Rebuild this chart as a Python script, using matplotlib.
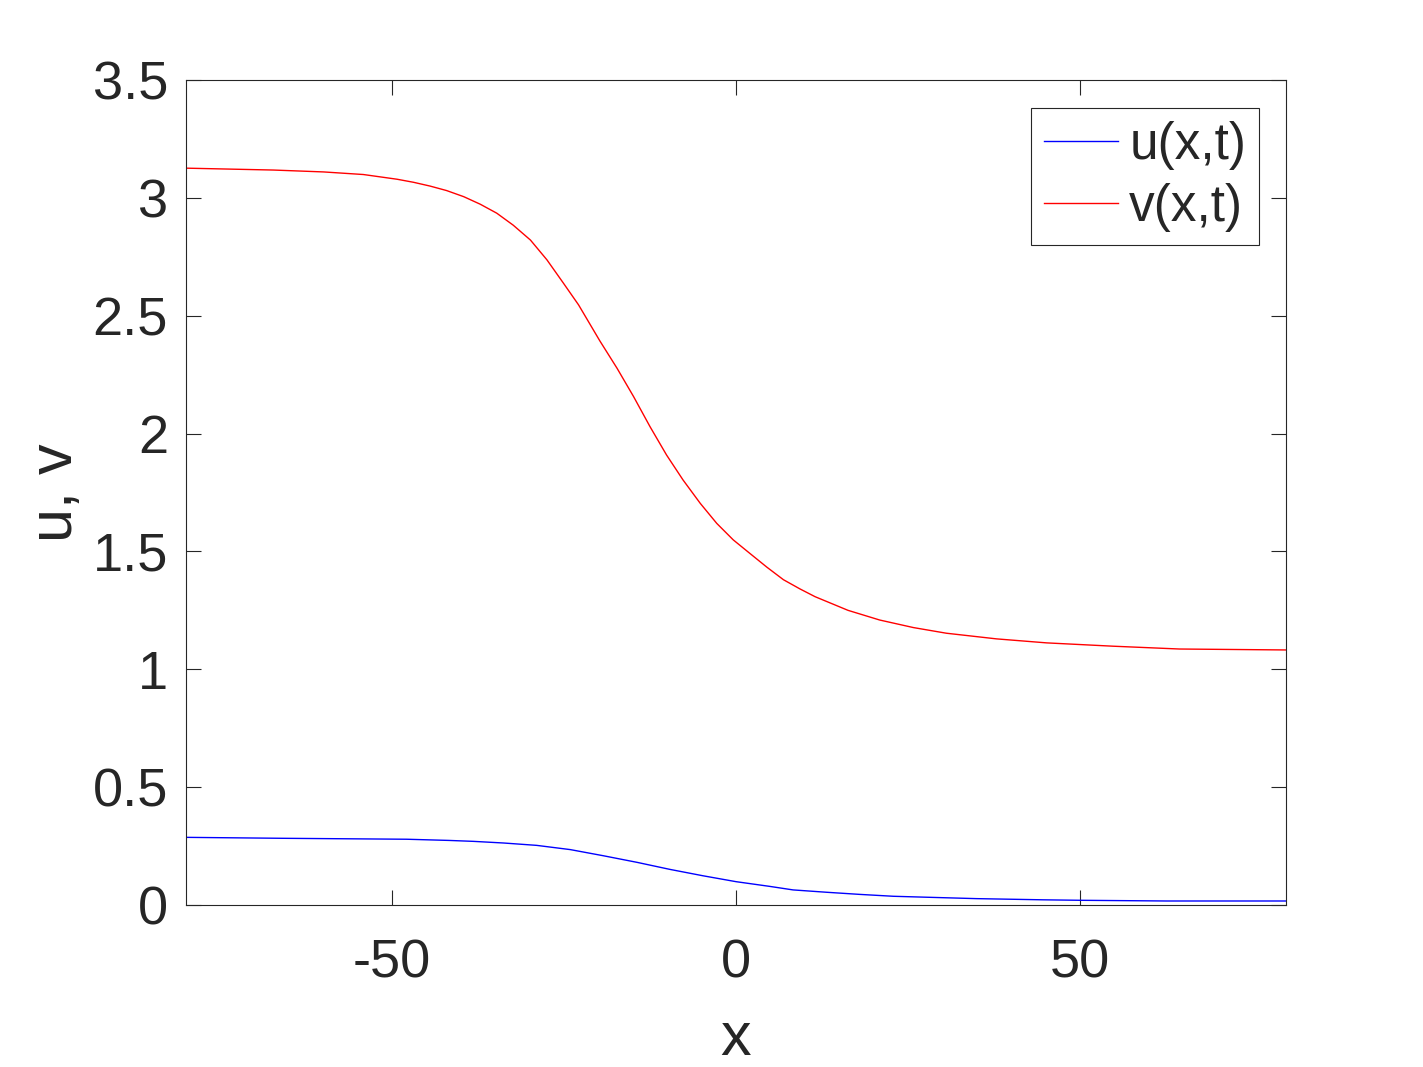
import matplotlib
matplotlib.use("Agg")
import matplotlib.pyplot as plt
from matplotlib.ticker import FuncFormatter

plt.rcParams['font.family'] = ['Liberation Sans', 'DejaVu Sans']
plt.rcParams['axes.unicode_minus'] = False

# valeurs
x_v = [-80, -67.3, -60, -54.2, -49.3, -46.9, -44.5, -42.1, -39.6, -37.2, -34.8, -32.4,
       -29.9, -27.5, -25.1, -22.9, -19.8, -17.3, -14.9, -12.5, -10.1, -7.7, -5.2, -2.8,
       -0.4, 2.0, 4.5, 6.9, 9.3, 11.5, 16.3, 20.9, 25.8, 30.6, 37.9, 45.2, 54.8, 64.5, 80]
v_vals = [3.126, 3.118, 3.110, 3.099, 3.079, 3.066, 3.050, 3.031, 3.005, 2.973, 2.935,
          2.884, 2.821, 2.737, 2.638, 2.546, 2.393, 2.277, 2.157, 2.029, 1.909, 1.803,
          1.704, 1.619, 1.549, 1.492, 1.433, 1.380, 1.341, 1.308, 1.250, 1.209, 1.177,
          1.153, 1.129, 1.112, 1.098, 1.086, 1.082]

x_u = [-80, -66.0, -47.9, -41.8, -38.2, -33.8, -29.0, -24.1, -19.3, -14.4, -9.6, -4.8,
       0.0, 4.9, 8.3, 13.2, 18.0, 22.9, 27.7, 35.0, 44.7, 50, 62.6, 80]
u_vals = [0.287, 0.283, 0.279, 0.274, 0.270, 0.263, 0.253, 0.235, 0.209, 0.181, 0.151,
          0.124, 0.099, 0.079, 0.064, 0.054, 0.045, 0.037, 0.033, 0.027, 0.022, 0.020,
          0.017, 0.017]

xticks = [-50, 0, 50]
yticks = [0, 0.5, 1, 1.5, 2, 2.5, 3, 3.5]

dark = '#262626'

fig = plt.figure(figsize=(14.23, 10.67), dpi=100)
ax = fig.add_axes([186 / 1423, 1 - 905 / 1067, 1100 / 1423, 825 / 1067])

ax.plot(x_u, u_vals, color='#0000ff', lw=1.0, label='u(x,t)')
ax.plot(x_v, v_vals, color='#ff0000', lw=1.0, label='v(x,t)')

ax.set_xlim(-80, 80)
ax.set_ylim(0, 3.5)
ax.set_xticks(xticks)
ax.set_yticks(yticks)
ax.yaxis.set_major_formatter(FuncFormatter(lambda v, p: '%g' % v))
ax.xaxis.set_major_formatter(FuncFormatter(lambda v, p: '%g' % v))

ax.tick_params(direction='in', length=11, width=0.8, color=dark, labelsize=39,
               labelcolor=dark, top=True, right=True)
ax.tick_params(axis='x', pad=24)
ax.tick_params(axis='y', pad=13)
for s in ax.spines.values():
    s.set_color(dark)
    s.set_linewidth(0.8)

ax.set_xlabel('x', fontsize=44, color=dark, labelpad=16)
ax.set_ylabel('u, v', fontsize=44, color=dark, labelpad=5.5)

leg = ax.legend(loc='upper right', bbox_to_anchor=(0.9755, 0.966), borderaxespad=0,
                fontsize=37, handlelength=1.45, handletextpad=0.22, labelspacing=0.25,
                borderpad=0.25, fancybox=False, framealpha=1, edgecolor=dark)
leg.get_frame().set_linewidth(0.8)
for t in leg.get_texts():
    t.set_color(dark)

fig.savefig('out.png', dpi=100, facecolor='white')
